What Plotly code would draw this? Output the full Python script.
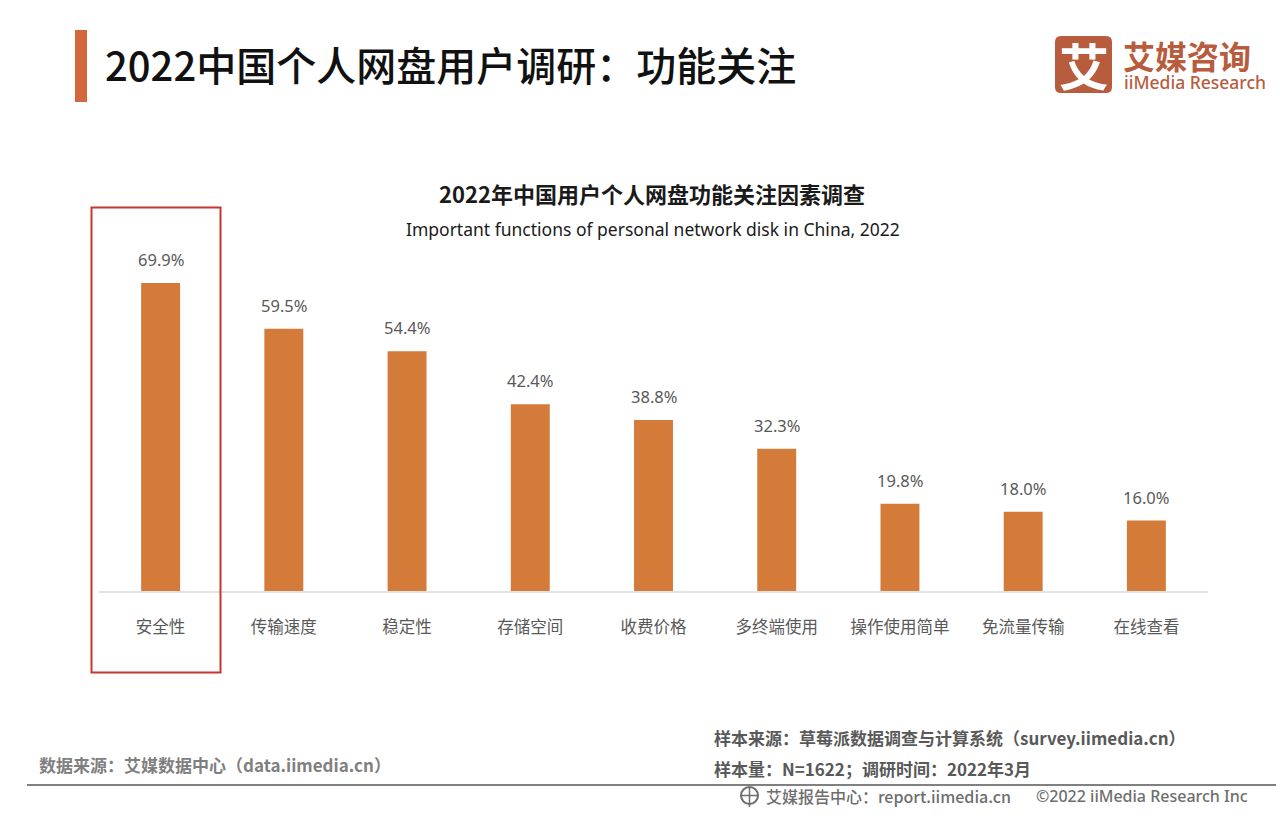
import plotly.graph_objects as go

categories = ["安全性", "传输速度", "稳定性", "存储空间", "收费价格", "多终端使用", "操作使用简单", "免流量传输", "在线查看"]
values = [69.9, 59.5, 54.4, 42.4, 38.8, 32.3, 19.8, 18.0, 16.0]
value_labels = ["69.9%", "59.5%", "54.4%", "42.4%", "38.8%", "32.3%", "19.8%", "18.0%", "16.0%"]

W, H = 1280, 822
LEFT, RIGHT, TOP, BOTTOM = 99, 1208, 180, 591
CJK = "Noto Sans CJK SC"
GREY = "#595959"


def px(x):
    return (x - LEFT) / (RIGHT - LEFT)


def py(y):
    return (BOTTOM - y) / (BOTTOM - TOP)


def label(x, y, text, size, color="#262626", anchor="left", weight=400, family=CJK):
    fig.add_annotation(
        x=px(x), y=py(y), xref="paper", yref="paper",
        xanchor=anchor, yanchor="middle", showarrow=False, text=text,
        font={"size": size, "color": color, "family": family, "weight": weight},
    )


def box(x0, y0, x1, y1, **kw):
    fig.add_shape(type="rect", xref="paper", yref="paper",
                  x0=px(x0), y0=py(y0), x1=px(x1), y1=py(y1), **kw)


fig = go.Figure()
fig.add_trace(
    go.Bar(
        x=categories,
        y=values,
        width=0.316,
        marker={"color": "#D47B3A", "line": {"width": 0}},
        hoverinfo="skip",
    )
)

for cat, val, txt in zip(categories, values, value_labels):
    fig.add_annotation(
        x=cat, y=val, text=txt, showarrow=False, yanchor="bottom", yshift=10,
        font={"size": 16.5, "color": GREY, "family": "Noto Sans"},
    )

# header
box(75, 30, 87, 102, fillcolor="#D2693C", line_width=0)
label(103, 64, "2022中国个人网盘用户调研：功能关注", 40, "#111111", weight=500)

# logo
fig.add_shape(
    type="path", xref="paper", yref="paper", fillcolor="#B85C3E", line_width=0,
    path=(f"M {px(1061)} {py(36)} L {px(1106)} {py(36)} Q {px(1112)} {py(36)} {px(1112)} {py(42)} "
          f"L {px(1112)} {py(87)} Q {px(1112)} {py(93)} {px(1106)} {py(93)} "
          f"L {px(1061)} {py(93)} Q {px(1055)} {py(93)} {px(1055)} {py(87)} "
          f"L {px(1055)} {py(42)} Q {px(1055)} {py(36)} {px(1061)} {py(36)} Z"),
)
label(1083.5, 64, "艾", 50, "#FFFFFF", anchor="center", weight=700)
label(1121, 55, "艾媒咨询", 32, "#B85C3E", weight=700)
label(1122, 82, "iiMedia Research", 17.5, "#B85C3E", weight=500, family="Noto Sans")

# chart titles
label(652, 193, "2022年中国用户个人网盘功能关注因素调查", 22, "#1a1a1a", anchor="center", weight=700)
label(653, 229, "Important functions of personal network disk in China, 2022", 17.5, "#1a1a1a", anchor="center", family="Noto Sans")

# highlight box
box(91.5, 207.5, 220.5, 672.5, line={"color": "#C8372D", "width": 2})

# footer
label(37, 764, "数据来源：艾媒数据中心（data.iimedia.cn）", 17, "#7f7f7f", weight=700)
label(712, 737, "样本来源：草莓派数据调查与计算系统（survey.iimedia.cn）", 17, "#595959", weight=700)
label(712, 768, "样本量：N=1622；调研时间：2022年3月", 17, "#595959", weight=700)
fig.add_shape(type="line", xref="paper", yref="paper", x0=px(27), x1=px(1276), y0=py(785), y1=py(785),
              line={"color": "#808080", "width": 2})

# globe icon
fig.add_shape(type="circle", xref="paper", yref="paper", x0=px(741), x1=px(758), y0=py(787), y1=py(804),
              line={"color": "#6e6e6e", "width": 2})
fig.add_shape(type="line", xref="paper", yref="paper", x0=px(741), x1=px(758), y0=py(795.5), y1=py(795.5),
              line={"color": "#6e6e6e", "width": 1.5})
fig.add_shape(type="line", xref="paper", yref="paper", x0=px(749.5), x1=px(749.5), y0=py(787), y1=py(807),
              line={"color": "#6e6e6e", "width": 1.5})
label(764, 796, "艾媒报告中心：report.iimedia.cn", 16, "#6e6e6e", weight=500)
label(1034, 796, "©2022 iiMedia Research Inc", 16, "#6e6e6e", weight=500, family="Noto Sans")

fig.update_layout(
    width=W,
    height=H,
    margin={"l": LEFT, "r": W - RIGHT, "t": TOP, "b": H - BOTTOM, "autoexpand": False},
    paper_bgcolor="white",
    plot_bgcolor="white",
    showlegend=False,
    font={"family": CJK},
    xaxis={
        "type": "category",
        "categoryorder": "array",
        "categoryarray": categories,
        "showgrid": False,
        "showline": True,
        "linecolor": "#E3E3E3",
        "linewidth": 1.5,
        "ticks": "",
        "ticklabelstandoff": 20,
        "tickfont": {"size": 16.5, "color": GREY, "family": CJK},
    },
    yaxis={"range": [0, 93.28], "visible": False, "showgrid": False, "zeroline": False},
)

fig.write_html("out.html", config={"displayModeBar": False}, post_script="document.body.style.margin='0';document.body.style.overflow='hidden';")
